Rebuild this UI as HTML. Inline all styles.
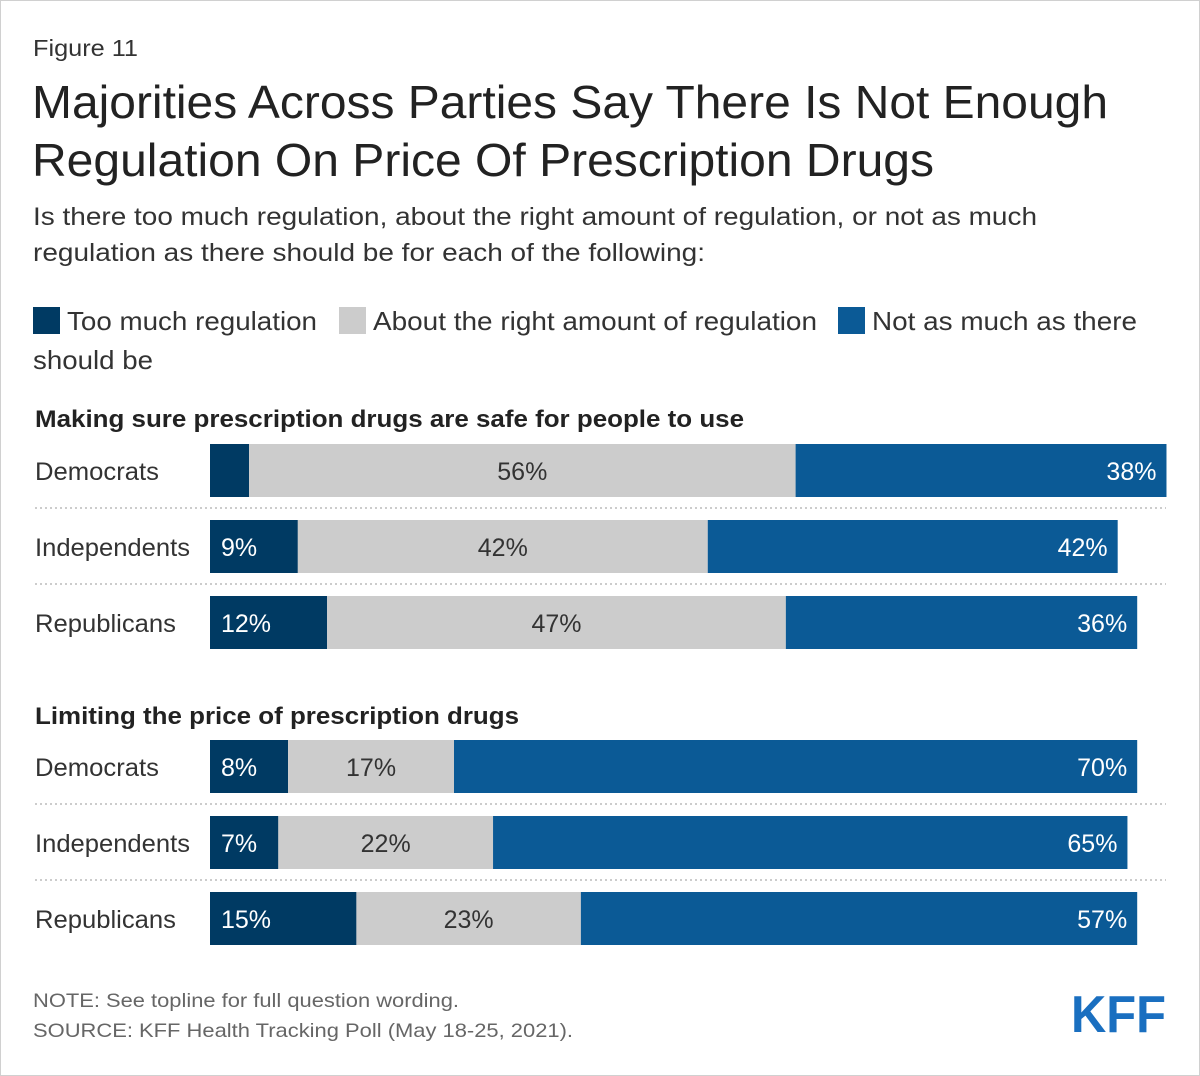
<!DOCTYPE html>
<html><head><meta charset="utf-8"><style>
body{margin:0;background:#fff;font-family:"Liberation Sans",Arial,sans-serif}
#wrap{position:relative;width:1200px;height:1076px;overflow:hidden}
svg{position:absolute;left:0;top:0}
</style></head><body>
<div id="wrap">
<svg id="chart" width="1200" height="1076" font-family="Liberation Sans, Arial, sans-serif">
<rect x="0.5" y="0.5" width="1199" height="1075" fill="#fff" stroke="#d0d0d0"/>
<text x="33" y="56" font-size="23" fill="#333" textLength="105" lengthAdjust="spacingAndGlyphs">Figure 11</text>
<text x="32" y="118" font-size="46" fill="#222" textLength="1076" lengthAdjust="spacingAndGlyphs">Majorities Across Parties Say There Is Not Enough</text>
<text x="32" y="176" font-size="46" fill="#222" textLength="902" lengthAdjust="spacingAndGlyphs">Regulation On Price Of Prescription Drugs</text>
<text x="33" y="225" font-size="25" fill="#333" textLength="1004" lengthAdjust="spacingAndGlyphs">Is there too much regulation, about the right amount of regulation, or not as much</text>
<text x="33" y="261" font-size="25" fill="#333" textLength="672" lengthAdjust="spacingAndGlyphs">regulation as there should be for each of the following:</text>
<g>
<rect x="33" y="307" width="27" height="27" fill="#003a63"/>
<text x="67" y="330" font-size="26" fill="#333" textLength="250" lengthAdjust="spacingAndGlyphs">Too much regulation</text>
<rect x="339" y="307" width="27" height="27" fill="#cccccc"/>
<text x="373" y="330" font-size="26" fill="#333" textLength="444" lengthAdjust="spacingAndGlyphs">About the right amount of regulation</text>
<rect x="838" y="307" width="27" height="27" fill="#0b5a96"/>
<text x="872" y="330" font-size="26" fill="#333" textLength="265" lengthAdjust="spacingAndGlyphs">Not as much as there</text>
<text x="33" y="369" font-size="26" fill="#333" textLength="120" lengthAdjust="spacingAndGlyphs">should be</text>
</g>
<text x="35" y="427" font-size="24" font-weight="bold" fill="#222" textLength="709" lengthAdjust="spacingAndGlyphs">Making sure prescription drugs are safe for people to use</text>
<text x="35" y="724" font-size="24" font-weight="bold" fill="#222" textLength="484" lengthAdjust="spacingAndGlyphs">Limiting the price of prescription drugs</text>
<g id="bars"></g>
<text x="33" y="1007" font-size="19.5" fill="#666" textLength="426" lengthAdjust="spacingAndGlyphs">NOTE: See topline for full question wording.</text>
<text x="33" y="1037" font-size="19.5" fill="#666" textLength="540" lengthAdjust="spacingAndGlyphs">SOURCE: KFF Health Tracking Poll (May 18-25, 2021).</text>
<text x="1071" y="1032" font-size="52" font-weight="bold" fill="#1a6fc0" textLength="95" lengthAdjust="spacingAndGlyphs">KFF</text>
</svg>
</div>
<script>
const categories = ["Democrats","Independents","Republicans","Democrats","Independents","Republicans"];
const tooMuch = [4, 9, 12, 8, 7, 15];
const rightAmount = [56, 42, 47, 17, 22, 23];
const notEnough = [38, 42, 36, 70, 65, 57];
const showTooMuchLabel = [false, true, true, true, true, true];

const X0 = 210, PX = 9.76;
const rowY = [444, 520, 596, 740, 816, 892];
const labelLen = {"Democrats":124, "Independents":155, "Republicans":141};
const BH = 53;
const xs = v => X0 + v * PX;
const g = document.getElementById('bars');
const NS = 'http://www.w3.org/2000/svg';
function mk(tag, attrs){const e=document.createElementNS(NS,tag);for(const k in attrs)e.setAttribute(k,attrs[k]);g.appendChild(e);return e;}

categories.forEach((c, i) => {
  const y = rowY[i];
  const lbl = mk('text', {x:35, y:y+36, 'font-size':25, fill:'#333', textLength:labelLen[c], lengthAdjust:'spacingAndGlyphs'});
  lbl.textContent = c;
  
  
  if (i !== 2 && i !== 5) {
    const ln = mk('line', {x1:35, x2:1166, y1:y+BH+11, y2:y+BH+11, stroke:'#bbb', 'stroke-width':1.5, 'stroke-dasharray':'2,3'});
    
    
  }
  const a = tooMuch[i], b = rightAmount[i], d = notEnough[i];
  const r1 = mk('rect', {x:xs(0), y:y, width:xs(a)-xs(0), height:BH, fill:'#003a63'});
  
  
  const r2 = mk('rect', {x:xs(a), y:y, width:xs(a+b)-xs(a), height:BH, fill:'#cccccc'});
  
  
  const r3 = mk('rect', {x:xs(a+b), y:y, width:xs(a+b+d)-xs(a+b), height:BH, fill:'#0b5a96'});
  
  
  if (showTooMuchLabel[i]) {
    const t1 = mk('text', {x:xs(0)+11, y:y+36, 'font-size':25, fill:'#fff'});
    t1.textContent = a + '%';
    
    
  }
  const t2 = mk('text', {x:(xs(a)+xs(a+b))/2, y:y+36, 'font-size':25, fill:'#333', 'text-anchor':'middle'});
  t2.textContent = b + '%';
  
  
  const t3 = mk('text', {x:xs(a+b+d)-10, y:y+36, 'font-size':25, fill:'#fff', 'text-anchor':'end'});
  t3.textContent = d + '%';
  
  
});
</script>
</body></html>
